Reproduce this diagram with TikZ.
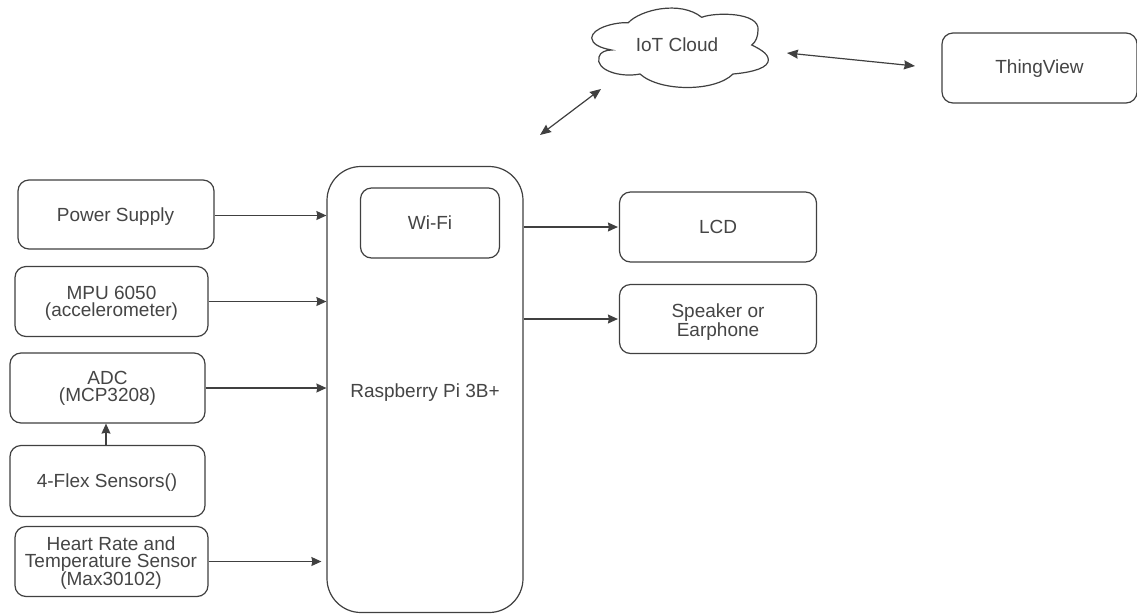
\documentclass[tikz,border=0pt]{standalone}
\usepackage{fontspec}
\setmainfont{Liberation Sans}
\usetikzlibrary{arrows.meta}
\definecolor{ink}{gray}{0.25}
\definecolor{txt}{gray}{0.27}
\tikzset{
 boxn/.style={draw=ink,line width=1.2pt,rounded corners=11pt,minimum width=10pt},
 lbl/.style={align=center,font=\fontsize{19}{17}\selectfont,text=txt,inner sep=0pt},
 conn/.style={draw=ink,line width=1.2pt,-{Stealth[length=10pt,width=9pt,inset=1pt]}},
 dconn/.style={draw=ink,line width=1.2pt,{Stealth[length=11pt,width=9pt,inset=1pt]}-{Stealth[length=11pt,width=9pt,inset=1pt]}}
}
\begin{document}
\begin{tikzpicture}[x=1pt,y=1pt]
\useasboundingbox[fill=white] (0,0) rectangle (1137,-614);
\node[boxn,minimum width=196pt,minimum height=69pt] (ps) at (116,-214.5) {};
\node[lbl] (pstext) at (115.5,-216.5) {Power Supply};
\node[boxn,minimum width=193pt,minimum height=70pt] (mpu) at (111.5,-301.5) {};
\node[lbl] (mputext) at (111.5,-303.5) {MPU 6050\\(accelerometer)};
\node[boxn,minimum width=195pt,minimum height=70pt] (adc) at (107.5,-388) {};
\node[lbl] (adctext) at (107.5,-388) {ADC\\(MCP3208)};
\node[boxn,minimum width=195pt,minimum height=71pt] (flex) at (107.5,-481) {};
\node[lbl] (flextext) at (107,-483) {4-Flex Sensors()};
\node[boxn,minimum width=193pt,minimum height=70pt] (hr) at (111.5,-561.5) {};
\node[lbl] (hrtext) at (111,-563) {Heart Rate and\\Temperature Sensor\\(Max30102)};
\node[boxn,minimum width=196pt,minimum height=446pt,rounded corners=34pt] (pi) at (425,-389.5) {};
\node[lbl] (pilabel) at (425,-393) {Raspberry Pi 3B+};
\node[boxn,minimum width=139pt,minimum height=70pt] (wifi) at (430,-223) {};
\node[lbl] (wifitext) at (430,-223) {Wi-Fi};
\node[boxn,minimum width=197pt,minimum height=70pt] (lcd) at (718,-227) {};
\node[lbl] (lcdtext) at (718,-227) {LCD};
\node[boxn,minimum width=197pt,minimum height=69pt] (spk) at (718,-319) {};
\node[lbl] (spktext) at (718,-322) {Speaker or\\Earphone};
\node[boxn,minimum width=195pt,minimum height=70pt] (tv) at (1039.5,-68) {};
\node[lbl] (tvtext) at (1039.5,-69) {ThingView};
\draw[draw=ink,line width=1.2pt]
 (628.3,-22.7)
 .. controls (640,-10) and (680,0) .. (701.7,-17.3)
 .. controls (715,-12) and (760,-12) .. (758,-30)
 .. controls (758,-36) and (756,-42) .. (751.7,-45)
 .. controls (762,-50) and (770,-55) .. (768,-62)
 .. controls (765,-70) and (745,-73) .. (733,-74)
 .. controls (715,-92) and (660,-92) .. (640,-74)
 .. controls (620,-78) and (595,-70) .. (599,-57)
 .. controls (600,-52) and (606,-50) .. (611.7,-50)
 .. controls (600,-48) and (592,-44) .. (591.7,-38)
 .. controls (592,-28) and (615,-22) .. (628.3,-22.7)
 -- cycle;
\node[lbl] (cloud) at (677,-45) {IoT Cloud};
\coordinate (cloudsw) at (601,-89);
\coordinate (pitop) at (540,-135);
\coordinate (cloude) at (787,-53);
\coordinate (tvw) at (915,-66);
\draw[conn] (ps.east |- 0,-215.5) -- (pi.west |- 0,-215.5);
\draw[conn] (mpu.east) -- (pi.west |- mpu.east);
\draw[conn] (adc.east) -- (pi.west |- adc.east);
\draw[conn] (flex.north -| 106,0) -- (adc.south -| 106,0);
\draw[conn] (hr.east) -- ([xshift=-5pt]pi.west |- hr.east);
\draw[conn] (pi.east |- lcd.east) -- ([xshift=-1pt]lcd.west);
\draw[conn] (pi.east |- spk.east) -- ([xshift=-1pt]spk.west);
\draw[dconn] (pitop) -- (cloudsw);
\draw[dconn] (cloude) -- (tvw);
\end{tikzpicture}
\end{document}
